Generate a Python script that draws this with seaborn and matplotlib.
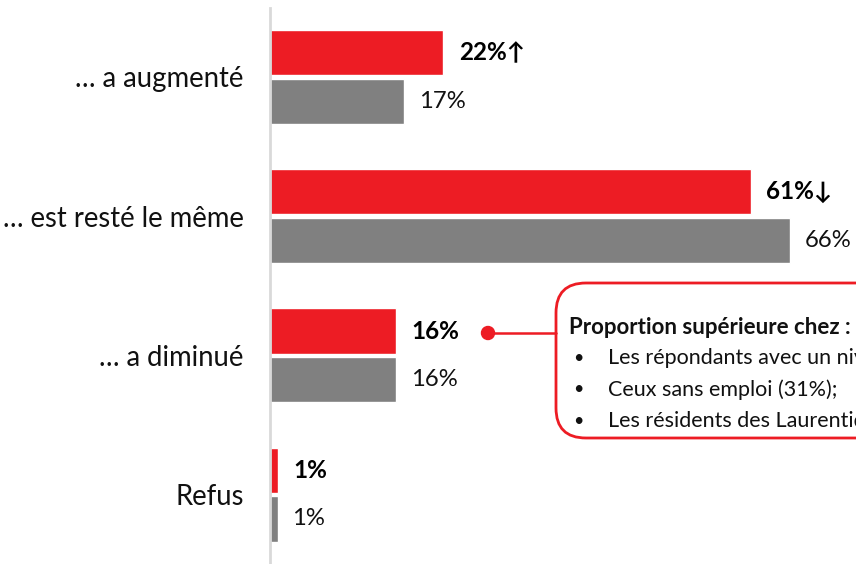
import matplotlib
matplotlib.use("Agg")
import matplotlib.pyplot as plt
import seaborn as sns
import pandas as pd
from matplotlib.patches import FancyBboxPatch, Circle
from matplotlib.lines import Line2D

categories = ["… a augmenté", "… est resté le même", "… a diminué", "Refus"]
series_names = ["Actuel", "Précédent"]
current = [22, 61, 16, 1]
previous = [17, 66, 16, 1]
current_labels = ["22%↑", "61%↓", "16%", "1%"]
previous_labels = ["17%", "66%", "16%", "1%"]
box_title = "Proportion supérieure chez :"
box_items = ["Les répondants avec un niveau de scolarité secondaire ou moins (23%);",
             "Ceux sans emploi (31%);",
             "Les résidents des Laurentides (29%)."]

RED = "#ED1C24"
GRAY = "#808080"

df = pd.DataFrame({
    "cat": categories * 2,
    "val": current + previous,
    "serie": [series_names[0]] * 4 + [series_names[1]] * 4,
})

sns.set_theme(style="white")
plt.rcParams['font.family'] = ['Lato', 'DejaVu Sans']

W, H = 856, 564
fig = plt.figure(figsize=(W / 100, H / 100), dpi=100)
ax = fig.add_axes([270 / W, 0, (W - 270) / W, 556 / H])

sns.barplot(data=df, y="cat", x="val", hue="serie", orient="h",
            palette=[RED, GRAY], width=0.7, gap=0.07, saturation=1,
            legend=False, ax=ax, order=categories)

ppu = 7.88
ax.set_xlim(0, (W - 270) / ppu)
ax.set_ylim((564 - 77) / 139.2, (8 - 77) / 139.2)
ax.set_xlabel("")
ax.set_ylabel("")
ax.set_xticks([])
ax.tick_params(axis="y", length=0, pad=19, labelsize=19.8, labelcolor="#111111")
for s in ["top", "right", "bottom"]:
    ax.spines[s].set_visible(False)
ax.spines["left"].set_color("#d9d9d9")
ax.spines["left"].set_linewidth(2)

conts = ax.containers
ax.bar_label(conts[0], labels=current_labels, padding=11, fontsize=17.5,
             fontweight="bold", color="#000000")
ax.bar_label(conts[1], labels=previous_labels, padding=10.5, fontsize=17.2,
             color="#111111")

def fx(px):
    return px / W

def fy(py):
    return 1 - py / H

# annotation box
box = FancyBboxPatch((fx(556), fy(438)), fx(960 - 556), (438 - 283) / H,
                     boxstyle="round,pad=0,rounding_size=0.035",
                     transform=fig.transFigure, facecolor="white",
                     edgecolor=RED, linewidth=2, clip_on=False,
                     mutation_aspect=W / H)
fig.patches.append(box)
fig.lines.append(Line2D([fx(488), fx(556)], [fy(333), fy(333)],
                        transform=fig.transFigure, color=RED, linewidth=1.8))
fig.patches.append(Circle((488, H - 333), 6.5, transform=None, color=RED))

fig.text(fx(569), fy(327), box_title, fontsize=16, fontweight="bold",
         va="center", ha="left", color="#111111")
for i, item in enumerate(box_items):
    yy = 358 + i * 31.5
    fig.text(fx(573), fy(yy), "•", fontsize=13, va="center", ha="left",
             color="#111111")
    fig.text(fx(608), fy(yy), item, fontsize=15.5, va="center", ha="left",
             color="#111111")

fig.savefig("out.png", dpi=100)
